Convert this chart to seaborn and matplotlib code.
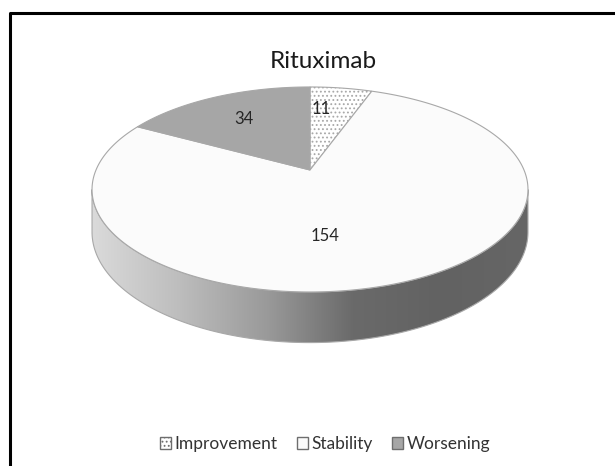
import numpy as np
import matplotlib
matplotlib.use("Agg")
import matplotlib.pyplot as plt
import seaborn as sns
from matplotlib.patches import Polygon, Patch
from matplotlib.colors import LinearSegmentedColormap

# --- Data ---
categories = ["Improvement", "Stability", "Worsening"]
counts = [11, 154, 34]
title = "Rituximab"

# --- Style ---
top_colors = ["#ffffff", "#fbfbfb", "#a6a6a6"]
hatches = ["....", None, None]
edge_color = "#a8a8a8"
label_r = [0.70, 0.60, 0.67]
label_angle = [5, 174, None]   # None -> slice mid angle

sns.set_theme(style="white")
plt.rcParams["font.family"] = ["Lato", "DejaVu Sans"]
plt.rcParams["hatch.color"] = "#8c8c8c"
plt.rcParams["hatch.linewidth"] = 0.8

# projection of the pie disc (pixel space, y down)
CX, CY = 310, 170
A, B, K, D = 214, 98.8, 0.19, 41


def proj(c, s, z=0.0):
    w = 1.0 / (1.0 - K * s)
    return CX + A * c * w, CY + (B * s + D * z) * w


def rim(theta_deg, r=1.0, z=0.0):
    t = np.radians(theta_deg)
    return proj(r * np.sin(t), -r * np.cos(t), z)


fig = plt.figure(figsize=(6.15, 4.66), dpi=100)
ax = fig.add_axes([0, 0, 1, 1])
ax.set_xlim(0, 615)
ax.set_ylim(466, 0)
ax.axis("off")

# --- side wall (front half, belongs to Stability which covers the front) ---
t_left = 360 - np.degrees(np.arccos(-K))
t_right = np.degrees(np.arccos(-K))
th = np.linspace(t_right, t_left, 200)
xt, yt = rim(th)
xb, yb = rim(th[::-1], z=1.0)
wall = Polygon(np.column_stack([np.r_[xt, xb], np.r_[yt, yb]]),
               closed=True, facecolor="none", edgecolor=edge_color, lw=0.8, zorder=2)
ax.add_patch(wall)
grad = LinearSegmentedColormap.from_list(
    "wall", ["#dadada", "#bdbdbd", "#9a9a9a", "#6a6a6a", "#626262", "#666666"])
gx = np.linspace(0, 1, 256)[None, :]
img = ax.imshow(gx, cmap=grad, aspect="auto",
                extent=[xt.min(), xt.max(), yb.max(), yt.min()], zorder=1)
img.set_clip_path(wall)

# --- top face ---
total = sum(counts)
start = 0.0
mids = []
for i, v in enumerate(counts):
    span = 360.0 * v / total
    th = np.linspace(start, start + span, max(int(span * 2), 4))
    xs, ys = rim(th)
    cx0, cy0 = proj(0, 0)
    pts = np.column_stack([np.r_[cx0, xs], np.r_[cy0, ys]])
    ax.add_patch(Polygon(pts, closed=True, facecolor=top_colors[i],
                         edgecolor=edge_color, lw=0.8, hatch=hatches[i], zorder=3))
    mids.append(start + span / 2)
    start += span

# --- value labels ---
for i, v in enumerate(counts):
    ang = mids[i] if label_angle[i] is None else label_angle[i]
    lx, ly = rim(ang, r=label_r[i])
    ax.text(lx, ly, str(v), ha="center", va="center", fontsize=12,
            color="#262626", zorder=5)

ax.text(323, 61, title, ha="center", va="center", fontsize=17.5, color="#1a1a1a")

# --- legend ---
handles = [Patch(facecolor=top_colors[i], edgecolor="#6e6e6e", hatch=hatches[i],
                 label=categories[i]) for i in range(len(categories))]
leg = fig.legend(handles=handles, loc="center", bbox_to_anchor=(325 / 615, 1 - 444 / 466),
                 ncol=3, frameon=False, fontsize=12.5, handlelength=0.65, handleheight=0.65,
                 handletextpad=0.2, columnspacing=1.1)
for t in leg.get_texts():
    t.set_color("#333333")

# chart frame (top and left edges visible)
ax.plot([10, 10, 615], [466, 13, 13], color="black", lw=2.2, solid_capstyle="butt")

fig.savefig("out.png", dpi=100)
